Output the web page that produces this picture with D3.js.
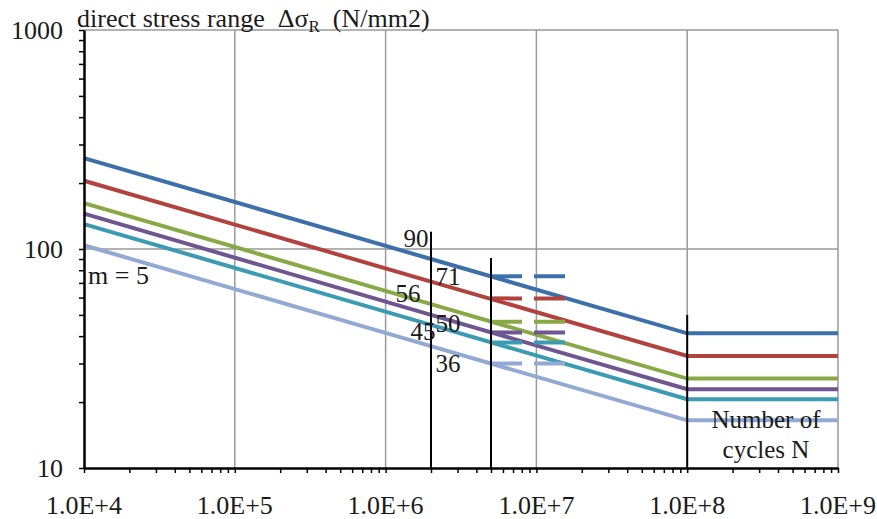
<!DOCTYPE html>
<html><head><meta charset="utf-8">
<script src="https://cdn.jsdelivr.net/npm/d3@7"></script>
<style>body{margin:0;background:#fff}svg{display:block}text{font-family:"Liberation Serif","Times New Roman",serif;fill:#1a1a1a;white-space:pre}</style>
</head><body>
<script>
// data
const categories = ["90", "71", "56", "50", "45", "36"];
const cycles = [1e4, 2e6, 1e8, 1e9];
const series90 = [260, 90, 41.2, 41.2];
const series71 = [205, 71, 32.5, 32.5];
const series56 = [162, 56, 25.6, 25.6];
const series50 = [145, 50, 22.9, 22.9];
const series45 = [130, 45, 20.6, 20.6];
const series36 = [104, 36, 16.5, 16.5];
const dashCycles = [5e6, 1.62e7];
const dashValues = [75, 59.5, 46.5, 41.6, 37.4, 30];
const markerCycles = [2e6, 5e6, 1e8];
const markerTops = [120, 91, 50];
const xTickLabels = ["1.0E+4", "1.0E+5", "1.0E+6", "1.0E+7", "1.0E+8", "1.0E+9"];
const yTickLabels = ["10", "100", "1000"];
const colors = ["#3D6FAA", "#B1423D", "#89A946", "#6F5690", "#3B9BB2", "#92AAD3"];

const allSeries = [series90, series71, series56, series50, series45, series36];
const W = 877, H = 519;
const svg = d3.select("body").append("svg").attr("width", W).attr("height", H);
const x = d3.scaleLog().domain([1e4, 1e9]).range([84, 838]);
const y = d3.scaleLog().domain([10, 1000]).range([468, 30]);

// gridlines
const decadesX = [1e4, 1e5, 1e6, 1e7, 1e8, 1e9];
svg.append("g").selectAll("line").data(decadesX.slice(1)).join("line")
  .attr("x1", d => x(d)).attr("x2", d => x(d)).attr("y1", y(1000)).attr("y2", y(10))
  .attr("stroke", "#9a9a9a").attr("stroke-width", 1.5);
svg.append("g").selectAll("line").data([100, 1000]).join("line")
  .attr("x1", x(1e4)).attr("x2", x(1e9)).attr("y1", d => y(d)).attr("y2", d => y(d))
  .attr("stroke", "#9a9a9a").attr("stroke-width", 1.5);

// series lines
const line = d3.line().x(d => x(d[0])).y(d => y(d[1]));
svg.append("g").selectAll("path").data(allSeries).join("path")
  .attr("d", s => line(cycles.map((c, i) => [c, s[i]])))
  .attr("fill", "none").attr("stroke", (d, i) => colors[i]).attr("stroke-width", 4);

// dashed constant amplitude lines
svg.append("g").selectAll("line").data(dashValues).join("line")
  .attr("x1", x(dashCycles[0])).attr("x2", x(dashCycles[1]))
  .attr("y1", d => y(d)).attr("y2", d => y(d))
  .attr("stroke", (d, i) => colors[i]).attr("stroke-width", 4)
  .attr("stroke-dasharray", "31,12");

// black marker verticals
svg.append("g").selectAll("line").data(markerCycles).join("line")
  .attr("x1", d => x(d)).attr("x2", d => x(d))
  .attr("y1", (d, i) => y(markerTops[i])).attr("y2", y(10))
  .attr("stroke", "#000").attr("stroke-width", 2);

// axes
const xAxis = d3.axisBottom(x).tickValues(d3.range(4, 9).flatMap(e => d3.range(1, 10).map(m => m * Math.pow(10, e))).concat([1e9]))
  .tickFormat("").tickSizeInner(5).tickSizeOuter(0);
const gx = svg.append("g").attr("transform", `translate(0,${y(10)})`).call(xAxis);
gx.select(".domain").attr("stroke", "#000").attr("stroke-width", 2.5);
gx.selectAll(".tick line").attr("stroke", "#000").attr("stroke-width", 1.5);

const yAxis = d3.axisLeft(y).tickValues(d3.range(1, 3).flatMap(e => d3.range(1, 10).map(m => m * Math.pow(10, e))).concat([1000]))
  .tickFormat("").tickSizeInner(5).tickSizeOuter(0);
const gy = svg.append("g").attr("transform", `translate(${x(1e4)},0)`).call(yAxis);
gy.select(".domain").attr("stroke", "#000").attr("stroke-width", 2.5);
gy.selectAll(".tick line").attr("stroke", "#000").attr("stroke-width", 1.5);

// tick labels
svg.append("g").selectAll("text").data(xTickLabels).join("text")
  .attr("x", (d, i) => x(decadesX[i])).attr("y", 514).attr("text-anchor", "middle")
  .attr("font-size", 26).text(d => d);
svg.append("g").selectAll("text").data(yTickLabels).join("text")
  .attr("x", 63).attr("y", d => y(+d) + 9).attr("text-anchor", "end")
  .attr("font-size", 26).text(d => d);

// title
const t = svg.append("text").attr("x", 77).attr("y", 27).attr("font-size", 26);
t.append("tspan").text("direct stress range  Δσ");
t.append("tspan").attr("font-size", 17).attr("dy", 5).text("R");
t.append("tspan").attr("dy", -5).text("  (N/mm2)");

// category labels
const labelPos = [[416, 247], [448, 285], [408, 302], [448, 332], [423, 340], [448, 372]];
svg.append("g").selectAll("text").data(categories).join("text")
  .attr("x", (d, i) => labelPos[i][0]).attr("y", (d, i) => labelPos[i][1])
  .attr("text-anchor", "middle").attr("font-size", 25).text(d => d);

svg.append("text").attr("x", 88).attr("y", 284).attr("font-size", 26).text("m = 5");
svg.append("text").attr("x", 766).attr("y", 428).attr("text-anchor", "middle").attr("font-size", 25).text("Number of");
svg.append("text").attr("x", 766).attr("y", 458).attr("text-anchor", "middle").attr("font-size", 25).text("cycles N");
</script>
</body></html>
